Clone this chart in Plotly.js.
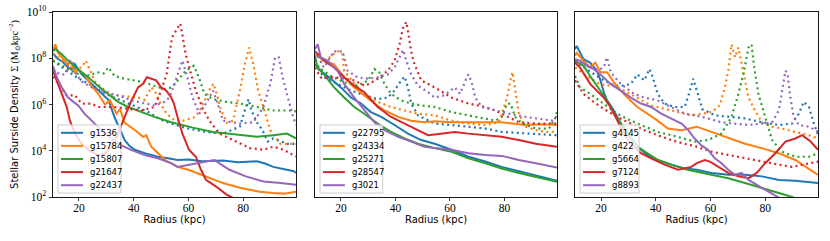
<!DOCTYPE html>
<html>
<head>
<meta charset="utf-8">
<script src="https://cdn.plot.ly/plotly-3.0.1.min.js"></script>
<style>html,body{margin:0;padding:0;background:#fff;}#chart{width:830px;height:241px;}</style>
</head>
<body>
<div id="chart"></div>
<script>
// ---------- colours and names ----------
const colors = ['#1f77b4', '#ff7f0e', '#2ca02c', '#d62728', '#9467bd'];
const panel1Names = ['g1536', 'g15784', 'g15807', 'g21647', 'g22437'];
const panel2Names = ['g22795', 'g24334', 'g25271', 'g28547', 'g3021'];
const panel3Names = ['g4145', 'g422', 'g5664', 'g7124', 'g8893'];
const xTickVals = [20, 40, 60, 80];
const yTickVals = [1e2, 1e4, 1e6, 1e8, 1e10];
const yTickText = ['10<sup>2</sup>', '10<sup>4</sup>', '10<sup>6</sup>', '10<sup>8</sup>', '10<sup>10</sup>'];

// ---------- panel 1 : solid ----------
const g1536_r = [10.5, 12, 14, 16, 17.3, 18.5, 21, 24.6, 28.2, 30.7, 33, 35, 36.7, 38.5, 40.4, 44, 48.8, 52.5, 56, 60, 65, 72.6, 78, 85, 88, 91, 95, 98.5, 99.3];
const g1536_s = [1.6e8, 1e8, 7.1e7, 4e7, 3.2e7, 5.6e7, 2e7, 7.9e6, 3.2e6, 1.6e6, 2.8e5, 7.9e4, 2.9e4, 1.6e4, 1.1e4, 7.9e3, 5.5e3, 4.7e3, 4e3, 4.2e3, 3.5e3, 3.8e3, 3.2e3, 3.5e3, 2.8e3, 2e3, 1.6e3, 1.3e3, 1.1e3];
const g15784_r = [10.5, 11.3, 12.5, 13.7, 16, 17, 18.5, 20, 22, 24.6, 27, 29.5, 31.3, 33.7, 35, 36.7, 40.4, 43.4, 44.6, 46.4, 48.8, 50.7, 52, 53.7, 56, 60, 66.4, 72.6, 78.8, 86, 91, 95, 99.3];
const g15784_s = [2e8, 4e8, 1.6e8, 1.1e8, 5.5e7, 7.1e7, 2.5e7, 3.2e7, 2e7, 6.3e6, 2.9e6, 1e6, 1.5e6, 4e5, 6.3e5, 1.6e5, 7.9e4, 4e4, 4.6e4, 1.5e4, 7.9e3, 5e3, 3.5e3, 2.9e3, 2e3, 1.5e3, 7.9e2, 4e2, 2.5e2, 1.7e2, 1.5e2, 1.4e2, 1.7e2];
const g15807_r = [10.5, 11.3, 13.7, 16, 19.8, 23.4, 27, 30.7, 34.3, 38, 42.8, 47.6, 53.7, 61.5, 69, 78.8, 85, 91, 96, 99.3];
const g15807_s = [2e8, 2.5e8, 1.5e8, 7.9e7, 3.2e7, 1.5e7, 6.3e6, 2.9e6, 1.3e6, 7.8e5, 4.7e5, 2.9e5, 1.7e5, 1e5, 6.5e4, 4.7e4, 4e4, 4.7e4, 5.5e4, 3.4e4];
const g21647_r = [10.5, 11.9, 13.7, 15.5, 16.7, 18.5, 21, 23.4, 27, 29.5, 31.9, 34.3, 36.7, 39.2, 41.6, 43.4, 44.8, 46.4, 48.2, 50, 51.9, 53.7, 54.7, 56, 57.8, 60.2, 62.7, 64.6, 66.4, 70, 73.8, 76.3];
const g21647_s = [2.9e7, 1e7, 2.9e6, 7.9e5, 2e5, 5.5e4, 2e4, 1.1e4, 6.3e3, 7.8e3, 1.5e4, 5.5e4, 2.9e5, 1.5e6, 5.5e6, 7.8e6, 1.5e7, 1.3e7, 1.1e7, 5.5e6, 4e6, 2e6, 1.1e6, 2.9e5, 5.5e4, 1.1e4, 5.5e3, 1.5e3, 5.5e2, 2.9e2, 1.3e2, 9.1e1];
const g22437_r = [10.5, 11.9, 13.7, 16, 18, 19.8, 22, 24.6, 27, 29.5, 32, 35.5, 39, 44, 48.8, 53.7, 56, 60, 66.4, 69.5, 72, 75, 81, 87.4, 93.6, 99.3];
const g22437_s = [4.7e7, 1.5e7, 5.5e6, 2e6, 1.3e6, 8.9e5, 4e5, 2e5, 1.1e5, 5.5e4, 3.4e4, 1.7e4, 1.1e4, 6.5e3, 4.7e3, 2.9e3, 2e3, 2.5e3, 3.4e3, 4e3, 2.5e3, 1.5e3, 7.8e2, 4.7e2, 4e2, 3.4e2];

// ---------- panel 1 : dotted ----------
const g1536_dr = [10.5, 15, 20, 25, 30, 35, 40, 45, 50, 55, 60, 66.4, 72.6, 78.8, 81, 82, 83, 85, 87, 89, 91, 93, 96, 99.3];
const g1536_d = [7.9e7, 3.2e7, 1.3e7, 6.3e6, 2.8e6, 1.6e6, 8.9e5, 5e5, 2.2e5, 1.3e5, 9.1e4, 6.5e4, 5.5e4, 1.1e5, 7.8e5, 1.7e6, 5.5e5, 1.7e5, 7.9e4, 2.5e4, 3.4e4, 2.8e4, 2e4, 2e4];
const g15784_dr = [10.5, 14, 18, 21, 22.5, 24, 25.8, 29.5, 33, 38, 41.6, 44, 45.2, 46.4, 48, 50, 52, 55, 58, 62, 64, 66.4, 68, 69.2, 70.5, 71.5, 74, 76.3, 78.8, 80.6, 82.2, 83.7, 85.5, 87.4, 89.9, 93.6, 97, 99.3];
const g15784_d = [1.6e8, 7.9e7, 3.2e7, 4e7, 7.9e7, 3.2e7, 1e7, 4e6, 2.5e6, 2.2e6, 2e6, 1.6e6, 3.2e6, 5.6e6, 3.2e6, 1e6, 4e5, 2e5, 2e5, 2.8e5, 5e5, 2e6, 5e6, 7.9e6, 2.5e6, 7.9e5, 1.6e5, 2e5, 4e6, 5.5e7, 2.9e8, 5.5e7, 4e6, 7.9e5, 7.9e4, 2e4, 2e4, 2e4];
const g15807_dr = [10.5, 15, 19, 21.5, 24, 26.5, 29, 30.7, 33, 36.7, 40.4, 44, 47.6, 51.3, 54, 56.5, 59, 62, 64, 65.8, 69, 73.8, 78.8, 85, 91, 97.3, 99.3];
const g15807_d = [7.9e7, 4e7, 2.2e7, 2e7, 1.8e7, 2.5e7, 2.2e7, 4e7, 1.7e7, 1.3e7, 1.1e7, 9.1e6, 6.3e6, 4.7e6, 5.5e6, 1.3e7, 2.9e7, 4.7e7, 1.3e7, 2.9e6, 1.7e6, 1.3e6, 1.1e6, 7.8e5, 5.5e5, 5.5e5, 5e5];
const g21647_dr = [10.5, 13, 15.5, 18.5, 21, 24.6, 27, 33, 38, 42.8, 47.6, 50, 52, 53, 54, 56, 57, 57.8, 59, 61, 62.7, 65, 67.6, 71.4, 76.3, 82.5, 87.4, 91, 94.8, 98.5, 99.3];
const g21647_d = [1.6e7, 6.3e6, 2.5e6, 2.5e6, 1.1e6, 1.1e6, 7.8e5, 7.8e5, 6.3e5, 5.5e5, 7.8e5, 4e6, 2e7, 1.5e8, 7.9e8, 2e9, 3.2e9, 1e9, 1.5e8, 2e7, 4e6, 7.8e5, 2e5, 5.5e4, 2.9e4, 1.3e4, 1.1e4, 1.5e4, 1.1e4, 6.3e3, 5.6e3];
const g22437_dr = [10.5, 13, 15, 16.5, 17.5, 19, 21, 24.6, 29.5, 34.3, 39.2, 44, 47.6, 51.3, 53, 54, 56, 57.8, 59.6, 61.5, 64, 66.4, 69, 70.7, 72.6, 78.8, 83.7, 87.4, 89.9, 91.7, 93, 94.2, 96, 97.9, 99.3];
const g22437_d = [3.2e7, 2e7, 2e7, 7.9e7, 7.9e7, 2e7, 1e7, 5.5e6, 3.2e6, 2.5e6, 1.5e6, 1.1e6, 9.1e5, 1.3e6, 2e6, 4e6, 2e7, 7.9e7, 1.5e7, 2e6, 4e5, 1.1e6, 4e6, 1.1e6, 2e5, 1.5e5, 1.7e5, 7.8e5, 7.8e6, 1.1e8, 1.1e8, 2e7, 2.9e6, 4e5, 1.3e5];

// ---------- panel 2 : solid ----------
const g22795_r = [10.5, 12.6, 16.3, 20, 23.7, 27.4, 31, 34.8, 39.7, 44.6, 49.5, 54.4, 60.6, 66.8, 73, 79, 85.3, 91.5, 99.3];
const g22795_s = [5.5e7, 2.9e7, 1.3e7, 5.5e6, 2e6, 1.1e6, 4.7e5, 2.9e5, 1.3e5, 5.5e4, 2.9e4, 2e4, 1.1e4, 5.5e3, 3.4e3, 2e3, 1.3e3, 8.3e2, 5e2];
const g24334_r = [10.5, 13.8, 17.5, 21.2, 24.9, 28.6, 32.3, 36, 41, 45.8, 50.7, 54.4, 60.6, 66.8, 73, 79, 82.8, 87.8, 94, 99.3];
const g24334_s = [1.5e8, 7.9e7, 5.5e7, 1.5e7, 5.5e6, 2.5e6, 1.1e6, 5.5e5, 2.9e5, 2e5, 1.7e5, 1.9e5, 1.7e5, 1.7e5, 1.7e5, 1.7e5, 1.5e5, 1.3e5, 1.4e5, 1.3e5];
const g25271_r = [10.5, 11.4, 13.8, 17.5, 21.2, 24.9, 28.6, 33.5, 38.4, 43.4, 48.3, 54.4, 60.6, 66.8, 73, 79, 85.3, 91.5, 99.3];
const g25271_s = [1.3e8, 4e7, 2e7, 5.5e6, 2e6, 7.8e5, 4e5, 1.5e5, 6.5e4, 3.4e4, 2e4, 1.3e4, 9.1e3, 4.7e3, 2.9e3, 1.7e3, 1.1e3, 7.4e2, 4.5e2];
const g28547_r = [10.5, 13.8, 17.5, 21.2, 24.9, 28.6, 33.5, 38.4, 43.4, 48.3, 52, 54.4, 61.8, 66.8, 73, 79, 85.3, 91.5, 99.3];
const g28547_s = [2e8, 7.9e7, 4e7, 1.5e7, 6.5e6, 3.4e6, 7.8e5, 2.9e5, 1.5e5, 7.8e4, 4.7e4, 5.1e4, 6.5e4, 5.5e4, 4.7e4, 4e4, 2.9e4, 2e4, 1.5e4];
const g3021_r = [10.5, 11.5, 12.6, 15, 18.8, 21.2, 24.9, 28.6, 32.3, 36, 41, 45.8, 50.7, 54.4, 60.6, 66.8, 73, 79, 85.3, 91.5, 99.3];
const g3021_s = [2.5e8, 4e8, 1.1e8, 7.9e7, 2.9e7, 7.8e6, 2e6, 5.5e5, 1.7e5, 7.8e4, 4e4, 2.5e4, 1.5e4, 1.3e4, 1.1e4, 7.8e3, 6.5e3, 6e3, 4e3, 2.9e3, 1.9e3];

// ---------- panel 2 : dotted ----------
const g22795_dr = [10.5, 13.8, 18.8, 23.7, 28.6, 33.5, 37.2, 39.7, 42.1, 43.4, 44.6, 45.8, 48.3, 52, 54.4, 60.6, 66.8, 73, 79, 85.3, 91.5, 99.3];
const g22795_d = [5.5e7, 1.5e7, 7.8e6, 4e6, 2.5e6, 1.7e6, 2e6, 4e6, 1.1e7, 1.6e7, 5.5e6, 1.1e6, 3.4e5, 2e5, 1.5e5, 1.3e5, 1.1e5, 9.1e4, 6.5e4, 5.9e4, 5.1e4, 4.7e4];
const g24334_dr = [10.5, 14, 16.5, 19, 20.5, 21.2, 25, 28.6, 33.5, 38.4, 43.4, 48.3, 54.4, 60.6, 66.8, 73, 78, 81, 82.2, 83, 84, 85.3, 87.8, 91.5, 95.2, 99.3];
const g24334_d = [7.9e7, 6.3e7, 1.3e8, 2e8, 1.7e8, 2.9e7, 7.8e6, 2.9e6, 1.3e6, 7.8e5, 5.5e5, 4e5, 3.4e5, 2e5, 1.5e5, 1.3e5, 1.7e5, 2e6, 1.1e7, 2.5e7, 4e6, 4e5, 1.1e5, 7.8e4, 6.5e4, 6.5e4];
const g25271_dr = [10.5, 12, 16.3, 21.2, 26, 30, 32.3, 34, 36, 38.4, 42.1, 45.8, 49.5, 54.4, 60.6, 66.8, 73, 76.7, 79, 81, 82.2, 84, 86.5, 91.5, 96.4, 98.9, 99.3];
const g25271_d = [7.9e7, 4e7, 1.7e7, 9.1e6, 6.5e6, 1.1e7, 3.4e7, 2.5e7, 7.8e6, 2.9e6, 1.5e6, 1.1e6, 9.1e5, 7.8e5, 4.7e5, 3.4e5, 2.5e5, 2e5, 2.9e5, 1.1e6, 1.1e6, 2.9e5, 1.5e5, 9.1e4, 9.1e4, 2.9e5, 5e5];
const g28547_dr = [10.5, 12.6, 17.5, 21, 25, 28.6, 30.5, 33.5, 37.2, 39.7, 41.5, 42.8, 44, 44.6, 45.8, 47, 49.5, 53.2, 54.4, 60.6, 66.8, 73, 76.7, 79, 85.3, 91.5, 99.3];
const g28547_d = [4e7, 1.5e7, 1.5e7, 1.3e7, 1.1e7, 6.5e6, 7.9e6, 1.3e7, 2.9e7, 7.9e7, 4e8, 2e9, 3.7e9, 1.5e9, 2e8, 5.5e7, 1.1e7, 6.5e6, 5.5e6, 2e6, 1.1e6, 7.8e5, 5.5e5, 4e5, 1.7e5, 1.5e5, 1.5e5];
const g3021_dr = [10.5, 13.8, 17.5, 19, 20.6, 22.5, 26, 30, 33.5, 37.2, 39.7, 41.5, 42.8, 44, 45.8, 48.3, 52, 54.4, 58, 61.8, 63.7, 66.2, 66.8, 68, 69.3, 71.7, 76.7, 81.6, 87.8, 92.7, 97.7, 99.3];
const g3021_d = [2e8, 4e7, 2e8, 2e8, 2e8, 2.9e7, 1.5e7, 1.3e7, 1.5e7, 2e7, 4e7, 1.1e8, 2.3e8, 7.9e7, 2e7, 6.5e6, 3.4e6, 2e6, 2.5e6, 5.5e6, 2.9e6, 1.5e7, 2e7, 9.1e6, 2e6, 7.8e5, 5.5e5, 4e5, 2.9e5, 2.5e5, 2e5, 3.2e5];

// ---------- panel 3 : solid ----------
const g4145_r = [10.5, 11.1, 13.6, 16, 18.5, 19.8, 21, 22.2, 24.7, 27.2, 29.6, 33.3, 37, 40.7, 45.7, 50.6, 55, 60.4, 66.5, 72.6, 78.8, 85, 91, 99.3];
const g4145_s = [2.5e8, 3.4e8, 9.1e7, 6.5e7, 2.9e7, 1.1e7, 3.4e6, 1.5e6, 5.5e5, 1.5e5, 5.5e4, 1.5e4, 6.5e3, 4e3, 2.5e3, 1.7e3, 1.5e3, 1.1e3, 9.1e2, 9.1e2, 7.8e2, 5.5e2, 5.1e2, 4e2];
const g422_r = [10.5, 11.1, 13.6, 16, 17.9, 19.8, 22.2, 24.7, 27.2, 29.6, 33.3, 37, 40.7, 44.4, 49.4, 55, 60.4, 66.5, 72.6, 78.8, 85, 91, 99.3];
const g422_s = [1.3e8, 1.7e8, 7.8e7, 4e7, 6.5e7, 2.5e7, 2.5e7, 9.1e6, 4e6, 2e6, 7.8e5, 4e5, 2e5, 9.1e4, 7.8e4, 1.1e5, 6.5e4, 3.4e4, 2e4, 1.3e4, 7.8e3, 4e3, 9.1e2];
const g5664_r = [10.5, 13.6, 16, 19.8, 22.2, 24.7, 27.2, 30.9, 33.3, 37, 40.7, 45.7, 50.6, 54.2, 60.4, 66.5, 72.6, 78.8, 85, 89.8, 92];
const g5664_s = [7.8e7, 4.7e7, 1.7e7, 4e6, 1.5e6, 4e5, 1.5e5, 4e4, 1.5e4, 7.8e3, 4e3, 2.5e3, 1.6e3, 1.3e3, 9.1e2, 6.5e2, 4e2, 2.5e2, 1.5e2, 1e2, 8e1];
const g7124_r = [10.5, 12.3, 16, 18.5, 21, 23.5, 25.9, 28.4, 30.9, 34.6, 38.3, 43.2, 48.1, 53, 55, 57.9, 59.8, 62.8, 66.5, 70.2, 73.9, 76.9, 80, 83.7, 87.4, 91, 93.5, 96.6, 99.3];
const g7124_s = [6.5e7, 4e7, 7.8e6, 4e6, 2e6, 7.8e5, 2e5, 5.5e4, 2e4, 7.8e3, 4.7e3, 2.5e3, 1.5e3, 2e3, 2.9e3, 4e3, 3.4e3, 2e3, 1.1e3, 7.8e2, 6.5e2, 1.1e3, 2.9e3, 7.8e3, 2.5e4, 3.4e4, 4.7e4, 2.5e4, 1.1e4];
const g8893_r = [10.5, 12.3, 14.8, 17.3, 19.8, 23.5, 27.2, 30.9, 34.6, 38.3, 42, 45.7, 49.4, 51.9, 53.7, 56.7, 59.1, 61.6, 64, 66.5, 69, 71.4, 73.9, 78.8, 83.7, 86];
const g8893_s = [9.1e7, 7.8e7, 4.7e7, 3.4e7, 2e7, 7.8e6, 4e6, 2e6, 1.1e6, 7.8e5, 4e5, 2.5e5, 1.5e5, 7.8e4, 4e4, 1.7e4, 1.1e4, 4.7e3, 2.9e3, 1.5e3, 9.1e2, 1.1e3, 5.5e2, 2.5e2, 1.1e2, 8e1];

// ---------- panel 3 : dotted ----------
const g4145_dr = [10.5, 15, 20, 25, 28, 30.9, 33.3, 35.8, 37.7, 38.9, 40.7, 43.2, 46.9, 50.6, 52.5, 53.7, 55, 57, 61.6, 66.5, 72.6, 78.8, 85, 89.8, 92.3, 94.1, 96, 97.8, 99.3];
const g4145_d = [7.9e7, 3.2e7, 1.3e7, 6.5e6, 6.5e6, 7.8e6, 2e7, 1.1e7, 3.4e7, 1.5e7, 2.9e6, 1.1e6, 7.8e5, 7.8e5, 4e6, 1.3e7, 4e6, 6.3e5, 3.4e5, 2.9e5, 2.5e5, 1.7e5, 1.3e5, 1.5e5, 4e5, 1.3e6, 7.8e5, 1.5e5, 5e4];
const g422_dr = [10.5, 15, 20, 24.7, 28.4, 33.3, 38.3, 43.2, 48.1, 53, 60.4, 63.4, 65.3, 66.5, 67.7, 69, 70.2, 71.4, 72.6, 73.9, 76.3, 78.8, 82.5, 86.1, 91, 96, 99.3];
const g422_d = [4e7, 1.6e7, 7.1e6, 6.3e6, 4e6, 2e6, 9.1e5, 6.5e5, 4.7e5, 3.4e5, 4.7e5, 9.1e5, 5.5e6, 2.9e7, 4e8, 1.1e8, 2.9e8, 5.5e7, 1.1e7, 2e6, 5.5e5, 1.7e5, 1.1e5, 9.1e4, 6.5e4, 4.7e4, 3.4e4];
const g5664_dr = [10.5, 12.3, 16, 21, 25.9, 30.9, 35.8, 40.7, 45.7, 50.6, 54.2, 59.1, 64, 67.7, 70.2, 72, 73.9, 75, 76, 77.5, 80, 82.5, 86.1, 91, 96, 99.3];
const g5664_d = [1.7e7, 5.5e6, 2.9e6, 1.1e6, 4e5, 2e5, 1.1e5, 6.5e4, 4.7e4, 3.4e4, 2.5e4, 2.9e4, 5.5e4, 2.9e5, 2.9e6, 2e7, 2.9e8, 4e8, 4e7, 2.9e6, 2.9e5, 2.9e4, 9.1e3, 5.5e3, 5.5e3, 7.8e3];
const g7124_dr = [10.5, 13.6, 17.3, 21, 25.9, 30.9, 35.8, 40.7, 45.7, 50.6, 54.2, 60.4, 66.5, 72.6, 78.8, 85, 89.8, 93.5, 97.2, 99.3];
const g7124_d = [1.1e7, 2.9e6, 1.3e6, 6.5e5, 2.9e5, 1.5e5, 7.8e4, 4.7e4, 2.9e4, 2e4, 1.6e4, 9.1e3, 6.5e3, 4.7e3, 3.4e3, 2.5e3, 2e3, 2.5e3, 2.9e3, 3.4e3];
const g8893_dr = [10.5, 15, 19, 21, 22.2, 23.5, 27.2, 32, 35.8, 40.7, 45.7, 50.6, 54.2, 59.1, 64, 69, 73.9, 78.8, 82.5, 85, 86.1, 87.4, 88.2, 89.2, 90.4, 92.3, 96, 99.3];
const g8893_d = [7.9e7, 5e7, 3.2e7, 4e7, 1.1e8, 2.5e7, 7.8e6, 2.9e6, 2e6, 1.5e6, 7.8e5, 4e5, 3.4e5, 2.5e5, 1.7e5, 1.5e5, 1.3e5, 1.5e5, 1.7e5, 5.5e5, 4e6, 2.9e7, 2e7, 2e6, 2.9e5, 1.3e5, 1.1e5, 6.5e4];

// ---------- assemble ----------
const panels = [
  {names: panel1Names, ax: '', series: [
    [g1536_r, g1536_s, g1536_dr, g1536_d], [g15784_r, g15784_s, g15784_dr, g15784_d],
    [g15807_r, g15807_s, g15807_dr, g15807_d], [g21647_r, g21647_s, g21647_dr, g21647_d],
    [g22437_r, g22437_s, g22437_dr, g22437_d]]},
  {names: panel2Names, ax: '2', series: [
    [g22795_r, g22795_s, g22795_dr, g22795_d], [g24334_r, g24334_s, g24334_dr, g24334_d],
    [g25271_r, g25271_s, g25271_dr, g25271_d], [g28547_r, g28547_s, g28547_dr, g28547_d],
    [g3021_r, g3021_s, g3021_dr, g3021_d]]},
  {names: panel3Names, ax: '3', series: [
    [g4145_r, g4145_s, g4145_dr, g4145_d], [g422_r, g422_s, g422_dr, g422_d],
    [g5664_r, g5664_s, g5664_dr, g5664_d], [g7124_r, g7124_s, g7124_dr, g7124_d],
    [g8893_r, g8893_s, g8893_dr, g8893_d]]}
];

const traces = [];
panels.forEach(p => {
  p.series.forEach((s, i) => {
    traces.push({x: s[0], y: s[1], type: 'scatter', mode: 'lines', name: p.names[i],
      xaxis: 'x' + p.ax, yaxis: 'y' + p.ax, showlegend: false,
      line: {color: colors[i], width: 2}});
    traces.push({x: s[2], y: s[3], type: 'scatter', mode: 'lines', name: p.names[i] + ' (dotted)',
      xaxis: 'x' + p.ax, yaxis: 'y' + p.ax, showlegend: false,
      line: {color: colors[i], width: 2.2, dash: '2px,3.4px'}});
  });
});

const tickFont = {family: 'Liberation Serif, DejaVu Serif, serif', size: 11.5, color: '#000'};
const titleFont = {family: 'DejaVu Sans, sans-serif', size: 10, color: '#000'};
const xDomains = [[0, 0.3176], [0.3425, 0.6588], [0.6824, 1.0]];

const layout = {
  width: 830, height: 241,
  margin: {l: 53, r: 12, t: 12, b: 44},
  paper_bgcolor: '#fff', plot_bgcolor: '#fff',
  showlegend: false,
  shapes: [], annotations: []
};

panels.forEach((p, k) => {
  const xa = 'xaxis' + p.ax, ya = 'yaxis' + p.ax;
  layout[xa] = {
    domain: xDomains[k], anchor: 'y' + p.ax, range: [10.5, 99.3],
    tickvals: xTickVals, ticktext: xTickVals.map(String),
    ticks: 'outside', ticklen: 3.5, tickwidth: 0.8, tickcolor: '#000',
    ticklabelstandoff: -3,
    showline: true, mirror: true, linecolor: '#000', linewidth: 0.9,
    showgrid: false, zeroline: false, tickfont: tickFont,
    title: {text: 'Radius (kpc)', font: titleFont, standoff: 1}
  };
  const yAxis = {
    domain: [0, 1], anchor: 'x' + p.ax, type: 'log', range: [2, 10],
    showline: true, mirror: true, linecolor: '#000', linewidth: 0.9,
    showgrid: false, zeroline: false
  };
  if (k === 0) {
    Object.assign(yAxis, {
      tickvals: yTickVals, ticktext: yTickText,
      ticks: 'outside', ticklen: 3.5, tickwidth: 0.8, tickcolor: '#000',
      tickfont: tickFont,
      title: {text: 'Stellar Surside Density <span style="font-family:Liberation Serif, serif">Σ (M<sub>⊙</sub>kpc<sup>−2</sup>)</span>', font: titleFont, standoff: 6}
    });
  } else {
    Object.assign(yAxis, {showticklabels: false, ticks: ''});
  }
  layout[ya] = yAxis;

  // legend (one per panel) built from names and colours
  const xr = 'x' + p.ax + ' domain', yr = 'y' + p.ax + ' domain';
  const pw = 243, ph = 185;
  const boxW = k === 2 ? 59 : 63;
  const bx0 = 5 / pw, bx1 = (5 + boxW) / pw;
  const by0 = 4 / ph, by1 = 72 / ph;
  layout.shapes.push({type: 'rect', xref: xr, yref: yr, x0: bx0, x1: bx1, y0: by0, y1: by1,
    fillcolor: 'rgba(255,255,255,0.8)', line: {color: '#cccccc', width: 1}, layer: 'above'});
  p.names.forEach((nm, i) => {
    const yc = (72 - 7.8 - i * 13.1) / ph;
    layout.shapes.push({type: 'line', xref: xr, yref: yr, x0: (5 + 3) / pw, x1: (5 + 25) / pw, y0: yc, y1: yc,
      line: {color: colors[i], width: 2}, layer: 'above'});
    layout.annotations.push({xref: xr, yref: yr, x: (5 + 30) / pw, y: yc, xanchor: 'left', yanchor: 'middle',
      text: nm, showarrow: false, font: {family: 'DejaVu Sans, sans-serif', size: 8.5, color: '#000'}});
  });
});

Plotly.newPlot('chart', traces, layout, {staticPlot: true, displayModeBar: false});
</script>
</body>
</html>
